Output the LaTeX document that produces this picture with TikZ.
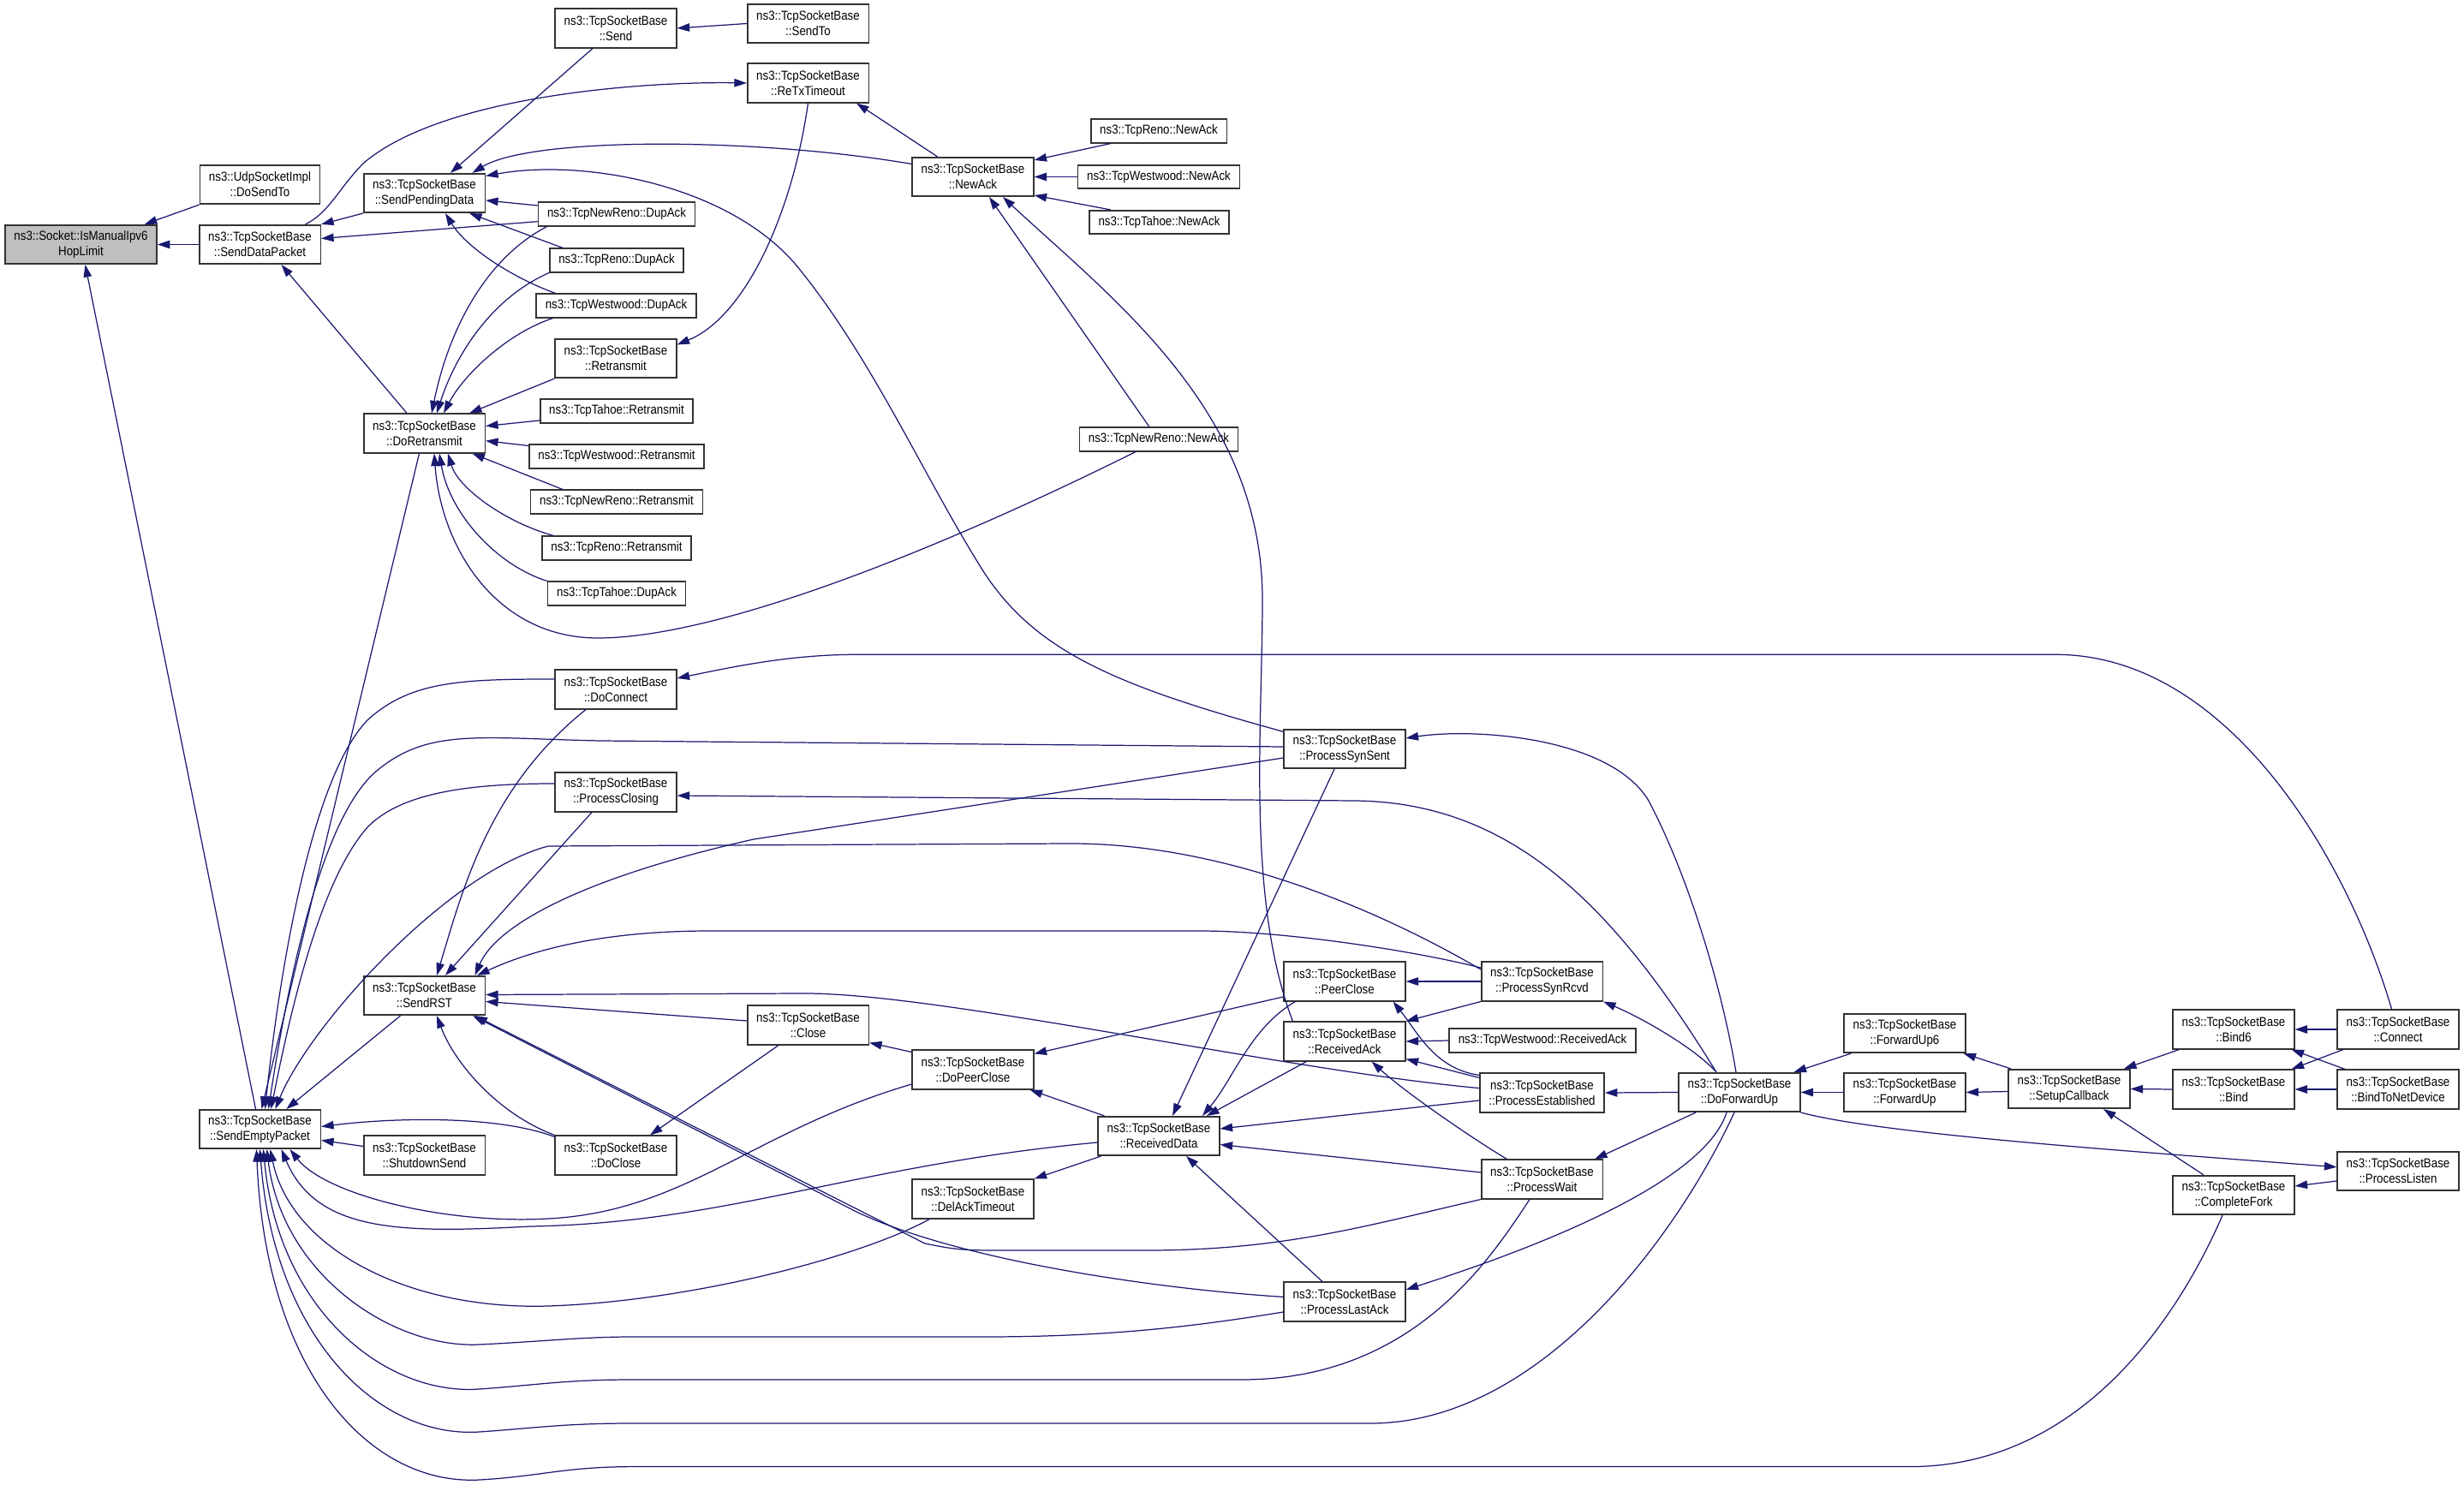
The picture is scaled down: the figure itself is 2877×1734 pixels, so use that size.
\documentclass[tikz,border=0pt]{standalone}
\usepackage{fontspec}
\setmainfont{Liberation Sans}[FakeStretch=0.88]
\usetikzlibrary{arrows.meta}
\definecolor{edgeblue}{HTML}{191970}
\newcommand{\tsb}[1]{ns3::TcpSocketBase\\::#1}

\begin{document}
\begin{tikzpicture}[x=0.01cm,y=-0.01cm,
	fn/.style={draw=black!80,line width=0.45pt,fill=white,inner xsep=0.105cm,inner ysep=0pt,
		minimum height=0.275cm,align=center,font=\fontsize{4.3}{5.1}\selectfont},
	fnb/.style={fn,minimum height=0.455cm},
	ln/.style={draw=edgeblue,line width=0.35pt,{Triangle[length=1.45mm,width=0.95mm]}-}]
	\useasboundingbox (0,0) rectangle (2877,1734);

	\node[fnb,fill=gray!50] (hop) at (94.5,285.5) {ns3::Socket::IsManualIpv6\\HopLimit};
	\node[fnb] (udp) at (303.5,215.5) {ns3::UdpSocketImpl\\::DoSendTo};
	\node[fnb] (sdp) at (303.5,285.5) {\tsb{SendDataPacket}};
	\node[fnb] (sep) at (303.5,1318.5) {\tsb{SendEmptyPacket}};
	\node[fnb] (spd) at (495.5,225.5) {\tsb{SendPendingData}};
	\node[fnb] (dor) at (495.5,506) {\tsb{DoRetransmit}};
	\node[fnb] (rst) at (495.5,1162.5) {\tsb{SendRST}};
	\node[fnb] (shs) at (495.5,1349) {\tsb{ShutdownSend}};
	\node[fnb] (snd) at (719,33) {\tsb{Send}};
	\node[fn] (nrd) at (720,250) {ns3::TcpNewReno::DupAck};
	\node[fn] (rnd) at (720,304) {ns3::TcpReno::DupAck};
	\node[fn] (wwd) at (719.5,357) {ns3::TcpWestwood::DupAck};
	\node[fnb] (ret) at (719,418.5) {\tsb{Retransmit}};
	\node[fn] (thr) at (720,480) {ns3::TcpTahoe::Retransmit};
	\node[fn] (wwr) at (720,533) {ns3::TcpWestwood::Retransmit};
	\node[fn] (nrr) at (720,586) {ns3::TcpNewReno::Retransmit};
	\node[fn] (rnr) at (720,640) {ns3::TcpReno::Retransmit};
	\node[fn] (thd) at (720,693) {ns3::TcpTahoe::DupAck};
	\node[fnb] (dcn) at (719,805) {\tsb{DoConnect}};
	\node[fnb] (pcl) at (719,925) {\tsb{ProcessClosing}};
	\node[fnb] (dcl) at (719,1349) {\tsb{DoClose}};
	\node[fnb] (sto) at (943.5,27.5) {\tsb{SendTo}};
	\node[fnb] (rtx) at (943.5,97) {\tsb{ReTxTimeout}};
	\node[fnb] (cls) at (943.5,1197) {\tsb{Close}};
	\node[fnb] (nak) at (1136,206.5) {\tsb{NewAck}};
	\node[fnb] (dpc) at (1136,1249) {\tsb{DoPeerClose}};
	\node[fnb] (dat) at (1136,1400) {\tsb{DelAckTimeout}};
	\node[fn] (rna) at (1353,153) {ns3::TcpReno::NewAck};
	\node[fn] (wna) at (1353,206.5) {ns3::TcpWestwood::NewAck};
	\node[fn] (tna) at (1353.5,259.5) {ns3::TcpTahoe::NewAck};
	\node[fn] (nna) at (1353,513) {ns3::TcpNewReno::NewAck};
	\node[fnb] (rcd) at (1353,1326.5) {\tsb{ReceivedData}};
	\node[fnb] (pss) at (1570,874.5) {\tsb{ProcessSynSent}};
	\node[fnb] (pcs) at (1570,1146) {\tsb{PeerClose}};
	\node[fnb] (rak) at (1570,1216) {\tsb{ReceivedAck}};
	\node[fnb] (pla) at (1570,1520) {\tsb{ProcessLastAck}};
	\node[fnb] (psr) at (1800.5,1146) {\tsb{ProcessSynRcvd}};
	\node[fn] (wra) at (1801,1215) {ns3::TcpWestwood::ReceivedAck};
	\node[fnb] (pes) at (1800.5,1276) {\tsb{ProcessEstablished}};
	\node[fnb] (pwt) at (1800.5,1377) {\tsb{ProcessWait}};
	\node[fnb] (dfu) at (2031,1275.5) {\tsb{DoForwardUp}};
	\node[fnb] (fu6) at (2224,1206.5) {\tsb{ForwardUp6}};
	\node[fnb] (fwu) at (2224,1275.5) {\tsb{ForwardUp}};
	\node[fnb] (scb) at (2416,1271.5) {\tsb{SetupCallback}};
	\node[fnb] (bd6) at (2608,1202) {\tsb{Bind6}};
	\node[fnb] (bnd) at (2608,1272) {\tsb{Bind}};
	\node[fnb] (cfk) at (2608,1395.5) {\tsb{CompleteFork}};
	\node[fnb] (con) at (2800,1202) {\tsb{Connect}};
	\node[fnb] (btn) at (2800,1272) {\tsb{BindToNetDevice}};
	\node[fnb] (pls) at (2800,1367.5) {\tsb{ProcessListen}};

	\draw[ln] ([shift={(-15,0)}]hop.north east) -- (udp.south west);
	\draw[ln] (hop.east) -- (sdp.west);
	\draw[ln] ([shift={(5,0)}]hop.south) -- ([shift={(-5,0)}]sep.north);
	\draw[ln] (sdp.north east) -- (spd.south west);
	\draw[ln] ([shift={(0,-7)}]sdp.east) -- ([shift={(0,8.7)}]nrd.west);
	\draw[ln] ([shift={(25,0)}]sdp.south) -- ([shift={(-20.5,0)}]dor.north);
	\draw[ln] ([shift={(30.5,0)}]spd.north) -- ([shift={(-27,0)}]snd.south);
	\draw[ln] (snd.east) -- (sto.west);
	\draw[ln] (rtx.west) .. controls (760,95) and (520,110) .. (425,190) .. controls (395,220) and (385,248) .. ([shift={(53,0)}]sdp.north);
	\draw[ln] ([shift={(0,-16)}]ret.east) .. controls (870,370) and (925,250) .. (rtx.south);
	\draw[ln] ([shift={(-15,0)}]rtx.south east) -- ([shift={(-41.5,0)}]nak.north);
	\draw[ln] ([shift={(-15.6,0)}]spd.north east) .. controls (620,160) and (880,160) .. ([shift={(0,-15)}]nak.west);
	\draw[ln] ([shift={(0,-20)}]spd.east) .. controls (680,185) and (850,215) .. (930,310) .. controls (1020,420) and (1080,560) .. (1150,670) .. controls (1210,760) and (1300,800) .. ([shift={(0,3.4)}]pss.north west);
	\draw[ln] ([shift={(0,8.5)}]spd.east) -- ([shift={(0,-10)}]nrd.west);
	\draw[ln] ([shift={(-19,0)}]spd.south east) -- ([shift={(16,0)}]rnd.north west);
	\draw[ln] ([shift={(24.5,0)}]spd.south) .. controls (545,290) and (600,325) .. ([shift={(23,0)}]wwd.north west);
	\draw[ln] ([shift={(8.5,0)}]dor.north) .. controls (525,380) and (570,300) .. ([shift={(11,0)}]nrd.south west);
	\draw[ln] ([shift={(14.5,0)}]dor.north) .. controls (530,420) and (570,350) .. (rnd.south west);
	\draw[ln] ([shift={(22.5,0)}]dor.north) .. controls (540,440) and (590,390) .. ([shift={(20,0)}]wwd.south west);
	\draw[ln] ([shift={(-19,0)}]dor.north east) -- (ret.south west);
	\draw[ln] ([shift={(0,-8.5)}]dor.east) -- ([shift={(0,11)}]thr.west);
	\draw[ln] ([shift={(0,8.7)}]dor.east) -- ([shift={(0,-12.5)}]wwr.west);
	\draw[ln] ([shift={(-15.6,0)}]dor.south east) -- ([shift={(38,0)}]nrr.north west);
	\draw[ln] ([shift={(27.5,0)}]dor.south) .. controls (535,570) and (590,610) .. ([shift={(14,0)}]rnr.north west);
	\draw[ln] ([shift={(17.5,0)}]dor.south) .. controls (525,600) and (580,660) .. (thd.north west);
	\draw[ln] ([shift={(11.5,0)}]dor.south) .. controls (515,640) and (580,745) .. (698,745) .. controls (840,745) and (1100,640) .. ([shift={(-27,0)}]nna.south);
	\draw[ln] ([shift={(19,0)}]nak.south) -- ([shift={(-11,0)}]nna.north);
	\draw[ln] ([shift={(35,0)}]nak.south) .. controls (1300,350) and (1474,480) .. (1474,700) .. controls (1474,850) and (1455,1050) .. ([shift={(11,0)}]rak.north west);
	\draw[ln] ([shift={(0,4)}]nak.north east) -- ([shift={(24,0)}]rna.south west);
	\draw[ln] (nak.east) -- (wna.west);
	\draw[ln] ([shift={(0,-2)}]nak.south east) -- ([shift={(25.5,0)}]tna.north west);

	\draw[ln] ([shift={(2,0)}]sep.north) -- ([shift={(-6,0)}]dor.south);
	\draw[ln] ([shift={(6,0)}]sep.north) .. controls (330,1100) and (370,900) .. (430,840) .. controls (480,795) and (540,793) .. ([shift={(0,-12)}]dcn.west);
	\draw[ln] ([shift={(10,0)}]sep.north) .. controls (340,1120) and (380,950) .. (440,900) .. controls (500,850) and (560,862) .. (700,865) -- ([shift={(0,-2.5)}]pss.west);
	\draw[ln] ([shift={(13,0)}]sep.north) .. controls (345,1150) and (380,1020) .. (430,965) .. controls (470,925) and (550,915) .. ([shift={(0,-10)}]pcl.west);
	\draw[ln] ([shift={(18,0)}]sep.north) .. controls (360,1200) and (520,1020) .. (640,988) -- (1250,985) .. controls (1450,985) and (1640,1080) .. ([shift={(0,-14)}]psr.west);
	\draw[ln] ([shift={(-40.7,0)}]sep.north east) -- ([shift={(-28,0)}]rst.south);
	\draw[ln] ([shift={(0,-3)}]sep.east) .. controls (460,1305) and (580,1302) .. ([shift={(0,2)}]dcl.north west);
	\draw[ln] ([shift={(0,13)}]sep.east) -- ([shift={(0,-10.5)}]shs.west);
	\draw[ln] ([shift={(35,0)}]sep.south) .. controls (380,1395) and (520,1430) .. (640,1423) .. controls (800,1415) and (880,1320) .. ([shift={(0,17)}]dpc.west);
	\draw[ln] ([shift={(25,0)}]sep.south) .. controls (370,1440) and (470,1440) .. (620,1432) .. controls (850,1428) and (1000,1360) .. ([shift={(0,7.5)}]rcd.west);
	\draw[ln] ([shift={(12,0)}]sep.south) .. controls (340,1460) and (480,1530) .. (640,1525) .. controls (800,1520) and (1000,1470) .. ([shift={(21,0)}]dat.south west);
	\draw[ln] ([shift={(8,0)}]sep.south) .. controls (330,1490) and (460,1575) .. (560,1570) .. controls (640,1566) and (680,1561) .. (740,1561) -- (1150,1561) .. controls (1300,1561) and (1400,1548) .. ([shift={(0,12)}]pla.west);
	\draw[ln] ([shift={(4,0)}]sep.south) .. controls (325,1530) and (450,1630) .. (560,1622) .. controls (630,1617) and (660,1611) .. (740,1611) -- (1450,1611) .. controls (1650,1611) and (1740,1470) .. ([shift={(-14.5,0)}]pwt.south);
	\draw[ln] (sep.south) .. controls (320,1560) and (440,1680) .. (560,1672) .. controls (630,1667) and (660,1662) .. (740,1662) -- (1600,1662) .. controls (1800,1662) and (1960,1440) .. ([shift={(-6,0)}]dfu.south);
	\draw[ln] ([shift={(-4,0)}]sep.south) .. controls (310,1600) and (430,1735) .. (560,1728) .. controls (630,1724) and (660,1712.6) .. (740,1712.6) -- (2230,1712.6) .. controls (2450,1712.6) and (2560,1500) .. ([shift={(-13,0)}]cfk.south);

	\draw[ln] ([shift={(14.5,0)}]rst.north) .. controls (540,1040) and (570,920) .. ([shift={(-35,0)}]dcn.south);
	\draw[ln] ([shift={(24.5,0)}]rst.north) -- ([shift={(-28,0)}]pcl.south);
	\draw[ln] ([shift={(-12.6,0)}]rst.north east) .. controls (580,1080) and (680,1025) .. (880,980) -- ([shift={(0,10.5)}]pss.west);
	\draw[ln] ([shift={(-10,0)}]rst.north east) .. controls (620,1110) and (700,1087) .. (830,1087) -- (1400,1087) .. controls (1500,1087) and (1650,1110) .. ([shift={(0,-16)}]psr.west);
	\draw[ln] ([shift={(0,-1)}]rst.east) -- (940,1160) .. controls (1100,1160) and (1500,1250) .. ([shift={(0,-5.4)}]pes.west);
	\draw[ln] ([shift={(0,7)}]rst.east) -- ([shift={(0,-5)}]cls.west);
	\draw[ln] ([shift={(-12.6,0)}]rst.south east) -- (1080,1452) .. controls (1110,1458) and (1120,1460) .. (1160,1460) -- (1340,1460) .. controls (1500,1460) and (1600,1430) .. (pwt.south west);
	\draw[ln] ([shift={(-15,0)}]rst.south east) -- (1000,1415) .. controls (1120,1472) and (1350,1505) .. ([shift={(0,-5.6)}]pla.west);
	\draw[ln] ([shift={(14.5,0)}]rst.south) .. controls (530,1240) and (580,1300) .. (dcl.north west);
	\draw[ln] ([shift={(40,0)}]dcl.north) -- ([shift={(-34.5,0)}]cls.south);
	\draw[ln] ([shift={(0,-3)}]cls.south east) -- ([shift={(0,3)}]dpc.north west);
	\draw[ln] ([shift={(0,5)}]dpc.north east) -- ([shift={(0,18)}]pcs.west);
	\draw[ln] ([shift={(-5,0)}]dpc.south east) -- ([shift={(8,0)}]rcd.north west);
	\draw[ln] (dat.north east) -- ([shift={(4,0)}]rcd.south west);
	\draw[ln] ([shift={(16,0)}]rcd.north) -- ([shift={(-12,0)}]pss.south);
	\draw[ln] ([shift={(51,0)}]rcd.north) .. controls (1440,1260) and (1460,1200) .. ([shift={(14,0)}]pcs.south west);
	\draw[ln] ([shift={(56,0)}]rcd.north) -- ([shift={(27,0)}]rak.south west);
	\draw[ln] ([shift={(0,-8.5)}]rcd.east) -- ([shift={(0,9)}]pes.west);
	\draw[ln] ([shift={(0,10)}]rcd.east) -- ([shift={(0,-8)}]pwt.west);
	\draw[ln] ([shift={(32,0)}]rcd.south) -- ([shift={(-26,0)}]pla.north);
	\draw[ln] (pcs.east) -- (psr.west);
	\draw[ln] ([shift={(-15,0)}]pcs.south east) .. controls (1655,1205) and (1675,1248) .. ([shift={(0,3)}]pes.north west);
	\draw[ln] (rak.north east) -- (psr.south west);
	\draw[ln] (rak.east) -- (wra.west);
	\draw[ln] ([shift={(0,-3)}]rak.south east) -- ([shift={(0,6)}]pes.north west);
	\draw[ln] ([shift={(31.6,0)}]rak.south) .. controls (1640,1275) and (1720,1330) .. ([shift={(-41,0)}]pwt.north);

	\draw[ln] (psr.south east) .. controls (1920,1190) and (1980,1225) .. ([shift={(-27,0)}]dfu.north);
	\draw[ln] (pes.east) -- (dfu.west);
	\draw[ln] ([shift={(-10,0)}]pwt.north east) -- ([shift={(20.6,0)}]dfu.south west);
	\draw[ln] ([shift={(0,-14)}]pla.east) .. controls (1800,1455) and (1990,1380) .. ([shift={(-15,0)}]dfu.south);
	\draw[ln] ([shift={(0,4)}]pcl.east) -- (1580,935) .. controls (1760,936) and (1880,1050) .. ([shift={(-27,0)}]dfu.north);
	\draw[ln] ([shift={(0,-12.5)}]pss.east) .. controls (1720,850) and (1880,860) .. (1925,935) .. controls (1970,1020) and (2010,1150) .. ([shift={(-4,0)}]dfu.north);
	\draw[ln] ([shift={(-8,0)}]dfu.north east) -- ([shift={(9,0)}]fu6.south west);
	\draw[ln] (dfu.east) -- (fwu.west);
	\draw[ln] ([shift={(-3,0)}]fu6.south east) -- ([shift={(3.5,0)}]scb.north west);
	\draw[ln] (fwu.east) -- ([shift={(0,3)}]scb.west);
	\draw[ln] ([shift={(-7.6,0)}]scb.north east) -- ([shift={(8,0)}]bd6.south west);
	\draw[ln] (scb.east) -- (bnd.west);
	\draw[ln] ([shift={(40,0)}]scb.south) -- ([shift={(-35,0)}]cfk.north);
	\draw[ln] (bd6.east) -- (con.west);
	\draw[ln] ([shift={(-4,0)}]bd6.south east) -- ([shift={(9.6,0)}]btn.north west);
	\draw[ln] ([shift={(-4,0)}]bnd.north east) -- ([shift={(7.6,0)}]con.south west);
	\draw[ln] (bnd.east) -- (btn.west);
	\draw[ln] ([shift={(0,-4.7)}]pls.west) .. controls (2500,1345) and (2200,1325) .. (dfu.south east);
	\draw[ln] ([shift={(0,-10.5)}]cfk.east) -- ([shift={(0,11.5)}]pls.west);
	\draw[ln] ([shift={(0,-13)}]dcn.east) .. controls (850,780) and (920,764.3) .. (1000,764.3) -- (2400,764.3) .. controls (2600,764.3) and (2740,1000) .. ([shift={(-7.4,0)}]con.north);
\end{tikzpicture}
\end{document}
